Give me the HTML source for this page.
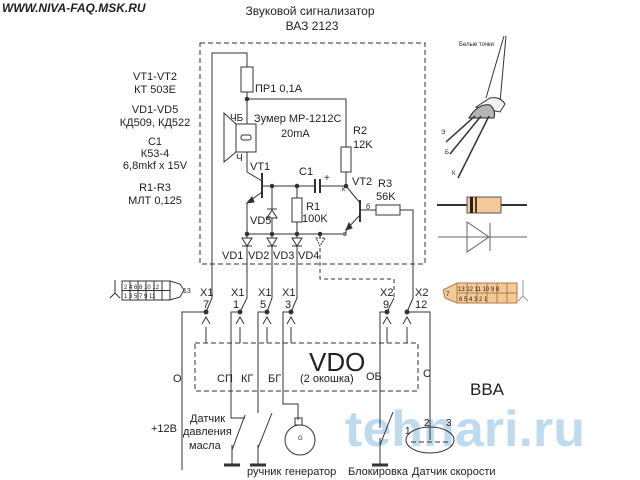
<!DOCTYPE html>
<html><head><meta charset="utf-8"><style>
html,body{margin:0;padding:0;background:#fff;width:640px;height:480px;overflow:hidden}
svg{display:block}
text{font-family:"Liberation Sans","DejaVu Sans",sans-serif;fill:#222}
</style></head><body>
<svg width="640" height="480" viewBox="0 0 640 480" xmlns="http://www.w3.org/2000/svg">
<!-- watermark -->
<text x="345" y="446" font-size="50" font-weight="bold" textLength="240" lengthAdjust="spacingAndGlyphs" style="fill:#b3d5ec" opacity="0.85">tehnari.ru</text>

<text x="2" y="12" font-size="12" font-weight="bold" font-style="italic">WWW.NIVA-FAQ.MSK.RU</text>
<text x="310" y="15" font-size="12" text-anchor="middle">Звуковой сигнализатор</text>
<text x="312" y="30" font-size="12" text-anchor="middle">ВАЗ  2123</text>

<g font-size="11" text-anchor="middle">
<text x="155" y="80">VT1-VT2</text><text x="155" y="93">КТ 503Е</text>
<text x="155" y="113">VD1-VD5</text><text x="155" y="126">КД509, КД522</text>
<text x="155" y="145">C1</text><text x="155" y="157">К53-4</text><text x="155" y="169">6,8mkf x 15V</text>
<text x="155" y="191">R1-R3</text><text x="155" y="204">МЛТ 0,125</text>
</g>

<g stroke="#333" fill="none" stroke-width="1">
<rect x="200" y="43" width="225" height="221" stroke-dasharray="5,3"/>
<rect x="195" y="343" width="223" height="48" stroke-dasharray="5,3"/>
<polyline points="212,298 212,53 247,53 247,67"/>
<rect x="241" y="67" width="12" height="25"/>
<polyline points="247,92 247,124"/>
<polyline points="247,99 346,99 346,147"/>
<rect x="341" y="147" width="10" height="25"/>
<line x1="346" y1="172" x2="346" y2="186"/>
<polygon points="224,113 236,124 236,152 224,162"/>
<rect x="236" y="124" width="20" height="28"/>
<rect x="241" y="135" width="10" height="5" rx="2"/>
<line x1="247" y1="152" x2="247" y2="172"/>
<line x1="247" y1="172" x2="262" y2="181"/>
<line x1="262" y1="173" x2="262" y2="198" stroke-width="2"/>
<line x1="262" y1="192" x2="247" y2="203"/>
<line x1="247" y1="203" x2="247" y2="236"/>
<line x1="262" y1="186" x2="315" y2="186"/>
<line x1="315" y1="179" x2="315" y2="193" stroke-width="2"/>
<line x1="320" y1="179" x2="320" y2="193" stroke-width="2"/>
<line x1="320" y1="186" x2="346" y2="186"/>
<line x1="272" y1="186" x2="272" y2="234"/>
<line x1="297" y1="186" x2="297" y2="198"/>
<rect x="292" y="198" width="10" height="24"/>
<line x1="297" y1="222" x2="297" y2="234"/>
<line x1="346" y1="186" x2="360" y2="203"/>
<line x1="360" y1="200" x2="360" y2="222" stroke-width="2"/>
<line x1="360" y1="215" x2="346" y2="230"/>
<polyline points="346,230 346,234 247,234"/>
<line x1="360" y1="210" x2="376" y2="210"/>
<rect x="376" y="205" width="24" height="10"/>
<polyline points="400,210 413,210 413,298 407,312"/>
<polyline points="247,236 247,298 240,312"/>
<polyline points="272,234 272,298 267,312"/>
<polyline points="297,234 297,298 291,312"/>
<polyline points="212,298 206,312"/>
<polyline points="320,234 320,279 394,279 394,298" stroke-dasharray="4,3"/>
<line x1="394" y1="298" x2="387" y2="312"/>
<polyline points="206,312 182,312 182,470"/>
<polyline points="240,312 231,312 231,418 245,418"/>
<line x1="245" y1="415" x2="232" y2="450"/>
<line x1="232" y1="445" x2="232" y2="464"/>
<polyline points="267,312 258,312 258,413"/>
<line x1="272" y1="413" x2="258" y2="448"/>
<line x1="258" y1="445" x2="258" y2="464"/>
<polyline points="291,312 283,312 283,404 298,404 298,420"/>
<rect x="295" y="418" width="7" height="7"/>
<circle cx="300" cy="440" r="15"/>
<polyline points="387,312 380,312 380,428"/>
<line x1="393" y1="412" x2="380" y2="445"/>
<line x1="380" y1="438" x2="380" y2="464"/>
<polyline points="407,312 430,312 430,440"/>
<ellipse cx="430" cy="440" rx="24" ry="13"/>
<line x1="411" y1="442" x2="449" y2="442" stroke-dasharray="5,3"/>
<g>
<line x1="206" y1="343" x2="206" y2="327"/><line x1="240" y1="343" x2="240" y2="327"/>
<line x1="267" y1="343" x2="267" y2="327"/><line x1="291" y1="343" x2="291" y2="327"/>
<line x1="387" y1="343" x2="387" y2="327"/><line x1="407" y1="343" x2="407" y2="327"/>
<polyline points="202,324 206,317 210,324"/><polyline points="236,324 240,317 244,324"/>
<polyline points="263,324 267,317 271,324"/><polyline points="287,324 291,317 295,324"/>
<polyline points="383,324 387,317 391,324"/><polyline points="403,324 407,317 411,324"/>
</g>
<rect x="122" y="281" width="48" height="19"/>
<line x1="122" y1="290.5" x2="170" y2="290.5"/>
<polyline points="170,281 180,284 184,290 180,297 170,300"/>
<line x1="130" y1="281" x2="130" y2="300"/><line x1="138" y1="281" x2="138" y2="300"/>
<line x1="146" y1="281" x2="146" y2="300"/><line x1="154" y1="281" x2="154" y2="300"/>
<line x1="162" y1="281" x2="162" y2="300"/>
<polyline points="115,280 115,293 110,298"/><line x1="115" y1="293" x2="120" y2="298"/>
<line x1="224" y1="465" x2="240" y2="465" stroke-width="3"/>
<line x1="250" y1="465" x2="266" y2="465" stroke-width="3"/>
<line x1="372" y1="465" x2="388" y2="465" stroke-width="3"/>
<!-- transistor drawing -->
<line x1="506" y1="36" x2="500" y2="102"/><line x1="504" y1="36" x2="486" y2="98"/>
<path d="M476,107 L490,98 Q500,96 505,104 L500,112 Z" fill="#f2f2f2"/>
<path d="M469,118 Q478,103 490,105 Q496,110 494,118 Z" fill="#b5b5b5" stroke="#222"/>
<line x1="475" y1="116" x2="446" y2="142" stroke-width="1.5"/>
<line x1="481" y1="116" x2="450" y2="154" stroke-width="1.5"/>
<line x1="489" y1="116" x2="458" y2="178" stroke-width="1.5"/>
<line x1="437" y1="205" x2="527" y2="205" stroke-width="2"/>
<rect x="467" y="197" width="34" height="16" fill="#f3c99a" stroke="#555"/>
<rect x="470" y="197" width="3" height="16" fill="#222" stroke="none"/>
<rect x="475" y="197" width="2" height="16" fill="#5a3a1a" stroke="none"/>
<line x1="438" y1="237" x2="527" y2="237" stroke="#666"/>
<polygon points="467,222 467,252 489,237" stroke="#666"/>
<line x1="490" y1="223" x2="490" y2="251" stroke="#666"/>
<polygon points="457,283 517,283 517,303 457,303 445,298 443,290" fill="#f3c99a" stroke="#b07a40"/>
<g stroke="#b07a40"><line x1="457" y1="283" x2="457" y2="303"/><line x1="457" y1="293" x2="517" y2="293"/>
<line x1="467" y1="283" x2="467" y2="303"/><line x1="477" y1="283" x2="477" y2="303"/><line x1="487" y1="283" x2="487" y2="303"/><line x1="497" y1="283" x2="497" y2="303"/><line x1="507" y1="283" x2="507" y2="303"/></g>
<polyline points="523,280 523,296 518,301" stroke="#999"/><line x1="523" y1="296" x2="528" y2="301" stroke="#999"/>
</g>
<g fill="#333" stroke="#333">
<polygon points="247,203 252,197 254,202"/>
<polygon points="346,230 349,223 352,228"/>
<polygon points="242,238 252,238 247,246" fill="#fff"/><line x1="242" y1="246" x2="252" y2="246"/>
<polygon points="267,238 277,238 272,246" fill="#fff"/><line x1="267" y1="246" x2="277" y2="246"/>
<polygon points="292,238 302,238 297,246" fill="#fff"/><line x1="292" y1="246" x2="302" y2="246"/>
<polygon points="316,238 325,238 320,246" fill="#fff" stroke-dasharray="2,1"/>
<polygon points="267,218 277,218 272,210" fill="#fff"/><line x1="267" y1="209" x2="277" y2="209"/>
<circle cx="247" cy="99" r="1.8"/><circle cx="272" cy="186" r="1.8"/><circle cx="297" cy="186" r="1.8"/>
<circle cx="346" cy="186" r="1.8"/><circle cx="247" cy="234" r="1.8"/><circle cx="272" cy="234" r="1.8"/>
<circle cx="297" cy="234" r="1.8"/><circle cx="320" cy="234" r="1.8"/>
<circle cx="206" cy="312" r="2"/><circle cx="240" cy="312" r="2"/><circle cx="267" cy="312" r="2"/>
<circle cx="291" cy="312" r="2"/><circle cx="387" cy="312" r="2"/><circle cx="407" cy="312" r="2"/>
</g>
<g font-size="11">
<text x="255" y="92">ПР1  0,1А</text>
<text x="230" y="121" font-size="10">ЧБ</text><text x="236" y="161" font-size="10">Ч</text>
<text x="254" y="122">Зумер MP-1212C</text><text x="281" y="137">20mA</text>
<text x="353" y="134">R2</text><text x="353" y="148">12K</text>
<text x="250" y="170">VT1</text><text x="299" y="175">C1</text><text x="324" y="181" font-size="10">+</text>
<text x="352" y="185">VT2</text><text x="378" y="187">R3</text><text x="376" y="200">56K</text>
<text x="342" y="191" font-size="7">к</text><text x="343" y="236" font-size="7">э</text><text x="366" y="209" font-size="7">б</text>
<text x="306" y="210">R1</text><text x="302" y="222">100K</text>
<text x="250" y="224">VD5</text>
<text x="222" y="259">VD1</text><text x="248" y="259">VD2</text><text x="273" y="259">VD3</text><text x="298" y="259">VD4</text>
<text x="200" y="296">X1</text><text x="203" y="308">7</text>
<text x="231" y="296">X1</text><text x="233" y="308">1</text>
<text x="258" y="296">X1</text><text x="260" y="308">5</text>
<text x="282" y="296">X1</text><text x="285" y="308">3</text>
<text x="380" y="296">X2</text><text x="383" y="308">9</text>
<text x="415" y="296">X2</text><text x="415" y="308">12</text>
<text x="173" y="382">O</text><text x="217" y="382">СП</text><text x="241" y="382">КГ</text><text x="268" y="382">БГ</text>
<text x="366" y="380">ОБ</text><text x="423" y="377">С</text>
<text x="300" y="382" font-size="11">(2 окошка)</text>
<text x="151" y="432">+12В</text>
<text x="190" y="422">Датчик</text><text x="183" y="435">давления</text><text x="189" y="449">масла</text>
<text x="247" y="475">ручник</text><text x="285" y="475">генератор</text>
<text x="348" y="475">Блокировка</text><text x="412" y="475">Датчик скорости</text>
<text x="405" y="434" font-size="10">1</text><text x="424" y="426" font-size="10">2</text><text x="446" y="426" font-size="10">3</text>
<text x="298" y="440" font-size="6">G</text>
<text x="183" y="293" font-size="7">13</text>
</g>
<text x="309" y="371" font-size="26">VDO</text>
<text x="470" y="395" font-size="17">BBA</text>
<g font-size="6">
<text x="124" y="289">2 4 6 8 10 12</text><text x="124" y="298">1 3 5 7 9 11</text>
<text x="458" y="291">13 12 11 10 9 8</text><text x="459" y="301">6  5  4  3  2  1</text>
<text x="446" y="296">7</text>
<text x="459" y="46">Белые точки</text>
<text x="441" y="134">Э</text><text x="445" y="154">Б</text><text x="452" y="175">К</text>
</g>
</svg>
</body></html>
